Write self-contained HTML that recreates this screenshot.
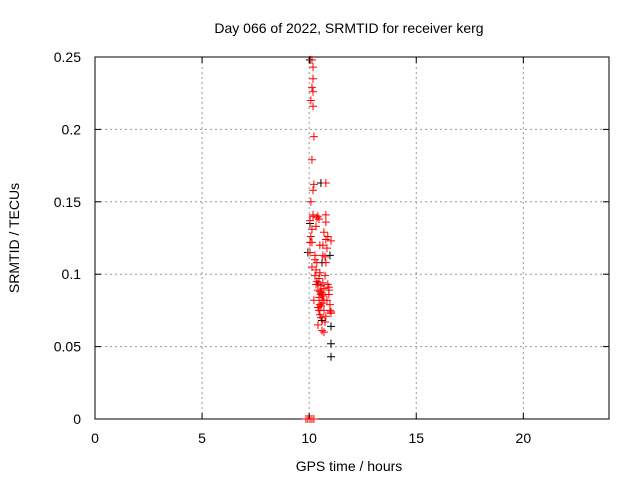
<!DOCTYPE html>
<html><head><meta charset="utf-8"><style>
body{margin:0;background:#fff;}
svg{display:block;font-family:"Liberation Sans",sans-serif;}
</style></head><body>
<svg id="chart" width="640" height="480">
<text x="349" y="33" font-size="14" text-anchor="middle">Day 066 of 2022, SRMTID for receiver kerg</text>
<text x="349" y="471" font-size="14" text-anchor="middle">GPS time / hours</text>
<text transform="translate(19,238) rotate(-90)" font-size="14" text-anchor="middle">SRMTID / TECUs</text>
<g id="grid"></g><g id="axes"></g><g id="marks"></g>
</svg>
<script>
const xTicks=[0,5,10,15,20];
const yTicks=[0,0.05,0.1,0.15,0.2,0.25];
const yTickLabels=["0","0.05","0.1","0.15","0.2","0.25"];
const redT=[10.13,10.18,10.18,10.13,10.18,10.08,10.18,10.22,10.13,10.22,10.18,10.78,10.08,10.18,10.78,10.78,10.04,10.13,10.32,10.69,10.87,10.78,11.02,10.13,10.50,10.04,10.27,10.64,10.36,10.78,10.13,10.27,10.46,10.74,10.32,10.64,10.92,10.41,10.55,10.92,10.60,10.83,10.97,10.46,10.69,10.50,10.78,11.02,10.41,10.60,10.74,11.02,10.69,10.50,10.32,10.22,10.13,9.85,9.94,10.04,10.22,
10.36,10.41,10.46,10.55,10.60,10.64,10.69,10.55,10.46,10.36,10.27,10.64,10.50,10.74,10.83,10.87,10.60,10.55,10.41,10.92,10.97,10.18,10.04,10.08,10.69,10.50];
const redV=[.248,.243,.235,.229,.226,.220,.216,.195,.179,.162,.158,.163,.150,.141,.141,.136,.137,.131,.133,.129,.126,.124,.123,.122,.120,.115,.113,.113,.108,.108,.105,.099,.097,.099,.093,.094,.091,.089,.086,.089,.082,.082,.079,.075,.075,.072,.071,.074,.065,.061,.067,.073,.082,.079,.103,.082,0,0,0,0,0,
.139,.140,.138,.092,.087,.085,.090,.078,.084,.095,.110,.120,.101,.112,.118,.093,.080,.070,.077,.086,.075,.140,.122,.126,.060,.088];
const blackT=[10.04,10.55,10.04,10.60,10.97,11.02,11.02,11.02,9.94,10.41,10.60];
const blackV=[.248,.163,.135,.108,.113,.064,.052,.043,.115,.093,.068];
const X0=95,X1=609,Y0=419,Y1=57;
const xs=t=>X0+(t/24)*(X1-X0);
const ys=v=>Y0-(v/0.25)*(Y0-Y1);
const NS="http://www.w3.org/2000/svg";
function mk(tag,attrs,parent){const e=document.createElementNS(NS,tag);for(const k in attrs)e.setAttribute(k,attrs[k]);document.getElementById(parent).appendChild(e);return e;}
xTicks.forEach(t=>{const x=xs(t);
 if(t>0){const g=mk('line',{x1:x,x2:x,y1:Y0,y2:Y1,stroke:'#999','stroke-dasharray':'2,3'},'grid');}
 const l=mk('text',{x:x,y:Y0+24,'font-size':14,'text-anchor':'middle'},'axes');l.textContent=t;
 
 mk('line',{x1:x,x2:x,y1:Y0,y2:Y0-6,stroke:'#000'},'axes');mk('line',{x1:x,x2:x,y1:Y1,y2:Y1+6,stroke:'#000'},'axes');
});
yTicks.forEach((v,i)=>{const y=ys(v);
 if(v>0&&v<0.25){const g=mk('line',{x1:X0,x2:X1,y1:y,y2:y,stroke:'#999','stroke-dasharray':'2,3'},'grid');}
 const l=mk('text',{x:X0-14,y:y+5,'font-size':14,'text-anchor':'end'},'axes');l.textContent=yTickLabels[i];
 
 mk('line',{x1:X0,x2:X0+6,y1:y,y2:y,stroke:'#000'},'axes');mk('line',{x1:X1,x2:X1-6,y1:y,y2:y,stroke:'#000'},'axes');
});
const fr=mk('rect',{x:X0,y:Y1,width:X1-X0,height:Y0-Y1,fill:'none',stroke:'#000'},'axes');

function plus(t,v,c,name){const x=xs(t),y=ys(v);
 const p=mk('path',{d:`M${x-4} ${y}H${x+4}M${x} ${y-4}V${y+4}`,stroke:c,'stroke-width':1},'marks');
 }
blackT.forEach((t,i)=>plus(t,blackV[i],'#000','black-point'));
redT.forEach((t,i)=>plus(t,redV[i],'#f00','red-point'));
</script>
</body></html>
